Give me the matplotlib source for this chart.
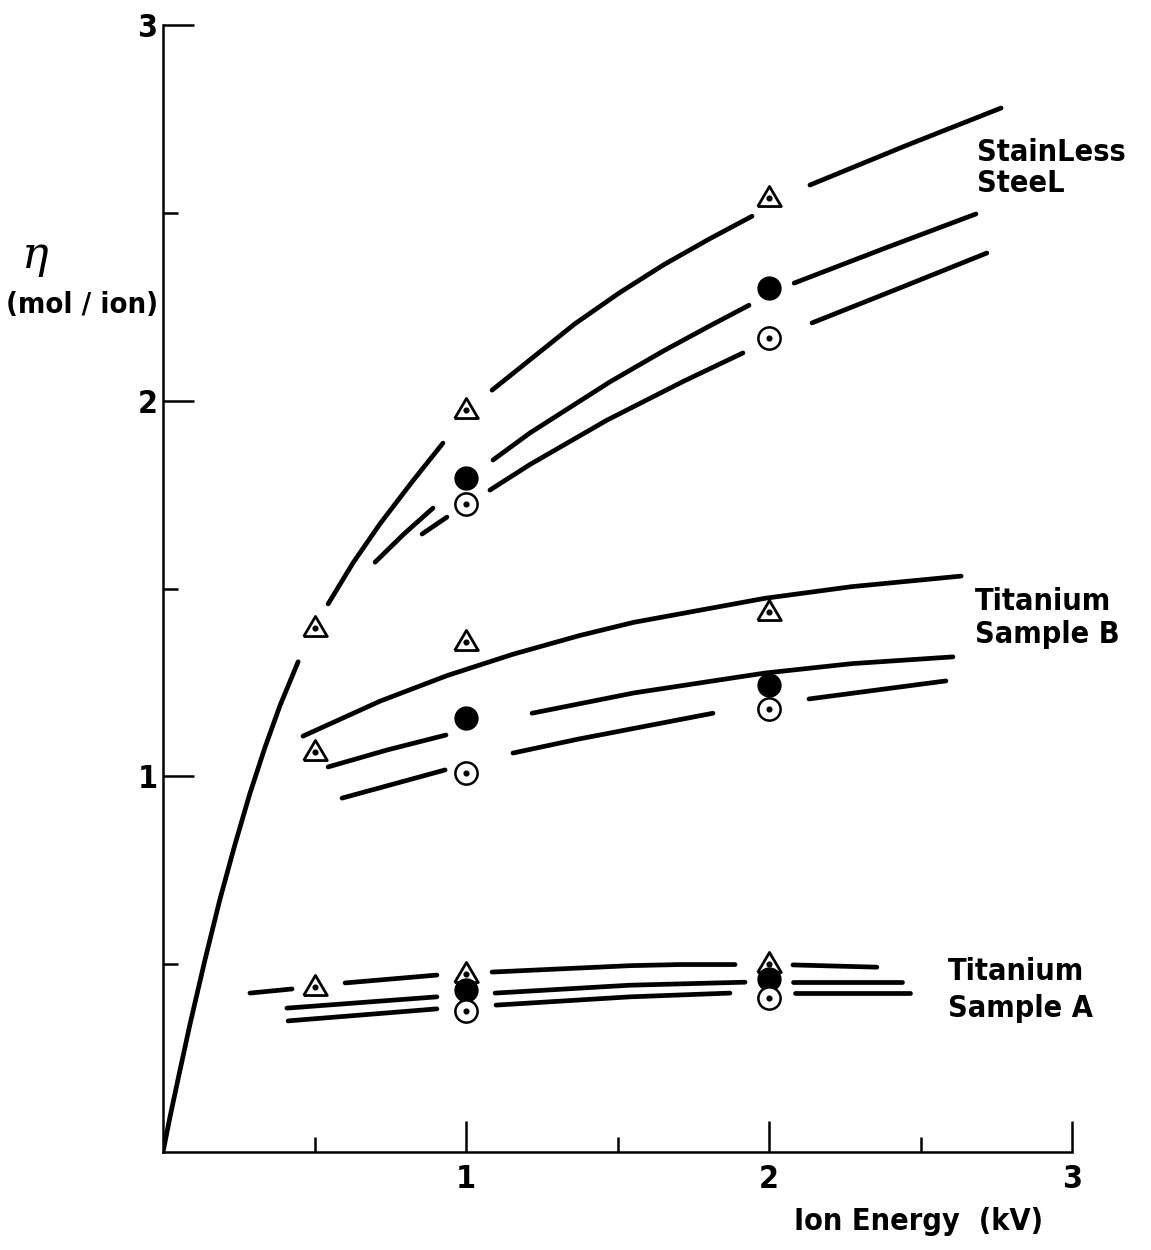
import numpy as np
import matplotlib
matplotlib.use("Agg")
from matplotlib import pyplot as plt

# ---- markers (kV, mol/ion) ----
ss_tri_x = [0.5, 1.0, 2.0]
ss_tri_y = [1.40, 1.98, 2.545]
ss_full_x = [1.0, 2.0]
ss_full_y = [1.795, 2.30]
ss_open_x = [1.0, 2.0]
ss_open_y = [1.725, 2.167]

tib_tri_x = [0.5, 1.0, 2.0]
tib_tri_y = [1.07, 1.363, 1.443]
tib_full_x = [1.0, 2.0]
tib_full_y = [1.155, 1.243]
tib_open_x = [1.0, 2.0]
tib_open_y = [1.009, 1.179]

tia_tri_x = [0.5, 1.0, 2.0]
tia_tri_y = [0.445, 0.479, 0.506]
tia_full_x = [1.0, 2.0]
tia_full_y = [0.431, 0.460]
tia_open_x = [1.0, 2.0]
tia_open_y = [0.375, 0.410]

# ---- hand drawn curves, broken around the markers ----
ss_tri_curve = [
    ([0, 0.023, 0.050, 0.089, 0.139, 0.188, 0.238, 0.287, 0.337, 0.386, 0.446],
     [0, 0.093, 0.195, 0.340, 0.513, 0.673, 0.820, 0.955, 1.078, 1.188, 1.305]),
    ([0.545, 0.627, 0.716, 0.825, 0.924],
     [1.459, 1.568, 1.672, 1.787, 1.887]),
    ([1.086, 1.360, 1.508, 1.653, 1.802, 1.944],
     [2.028, 2.205, 2.288, 2.362, 2.430, 2.491]),
    ([2.135, 2.449, 2.766],
     [2.574, 2.678, 2.779]),
]
ss_full_curve = [
    ([0.700, 0.795, 0.891], [1.570, 1.645, 1.714]),
    ([1.089, 1.211, 1.475, 1.653, 1.802, 1.934],
     [1.842, 1.914, 2.050, 2.133, 2.198, 2.254]),
    ([2.083, 2.383, 2.683], [2.313, 2.406, 2.497]),
]
ss_open_curve = [
    ([0.855, 0.937], [1.645, 1.690]),
    ([1.079, 1.211, 1.465, 1.719, 1.914],
     [1.762, 1.830, 1.948, 2.052, 2.127]),
    ([2.142, 2.432, 2.719], [2.207, 2.300, 2.393]),
]

tib_tri_curve = [
    ([0.462, 0.716, 0.937, 1.155, 1.376, 1.554, 1.987, 2.274, 2.634],
     [1.107, 1.200, 1.268, 1.325, 1.375, 1.410, 1.474, 1.505, 1.533]),
]
tib_full_curve = [
    ([0.545, 0.739, 0.934], [1.025, 1.070, 1.110]),
    ([1.218, 1.554, 1.987, 2.274, 2.607],
     [1.168, 1.222, 1.275, 1.300, 1.318]),
]
tib_open_curve = [
    ([0.591, 0.931], [0.942, 1.017]),
    ([1.155, 1.370, 1.815], [1.062, 1.099, 1.168]),
    ([2.132, 2.584], [1.206, 1.254]),
]

tia_tri_curve = [
    ([0.287, 0.426], [0.423, 0.434]),
    ([0.601, 0.904], [0.450, 0.471]),
    ([1.086, 1.541, 1.706, 1.888], [0.479, 0.496, 0.499, 0.499]),
    ([2.079, 2.356], [0.498, 0.492]),
]
tia_full_curve = [
    ([0.409, 0.904], [0.383, 0.413]),
    ([1.096, 1.541, 1.921], [0.423, 0.444, 0.452]),
    ([2.079, 2.439], [0.452, 0.452]),
]
tia_open_curve = [
    ([0.413, 0.904], [0.349, 0.381]),
    ([1.099, 1.541, 1.871], [0.391, 0.413, 0.423]),
    ([2.086, 2.465], [0.423, 0.423]),
]

all_curves = [ss_tri_curve, ss_full_curve, ss_open_curve,
              tib_tri_curve, tib_full_curve, tib_open_curve,
              tia_tri_curve, tia_full_curve, tia_open_curve]

font = dict(family="DejaVu Sans", fontweight="bold", fontstretch="condensed")

fig = plt.figure(figsize=(11.51, 12.5), dpi=100)
ax = fig.add_axes([163 / 1151, 98 / 1250, 909 / 1151, 1127 / 1250])
ax.set_xlim(0, 3)
ax.set_ylim(0, 3)

for curve in all_curves:
    for xs, ys in curve:
        ax.plot(xs, ys, color="k", lw=3.4, solid_capstyle="round",
                solid_joinstyle="round")

# triangle a bit flatter than it is wide
tri = [(-1, -0.85), (1, -0.85), (0, 0.85), (-1, -0.85)]
for xs, ys in [(ss_tri_x, ss_tri_y), (tib_tri_x, tib_tri_y), (tia_tri_x, tia_tri_y)]:
    ax.plot(xs, ys, ls="none", marker=tri, ms=17, mfc="white", mec="k", mew=2, zorder=5)
    ax.plot(xs, np.array(ys) - 0.006, ls="none", marker="o", ms=3.4, color="k", zorder=6)
for xs, ys in [(ss_full_x, ss_full_y), (tib_full_x, tib_full_y), (tia_full_x, tia_full_y)]:
    ax.plot(xs, ys, ls="none", marker="o", ms=16.5, color="k", zorder=5)
for xs, ys in [(ss_open_x, ss_open_y), (tib_open_x, tib_open_y), (tia_open_x, tia_open_y)]:
    ax.plot(xs, ys, ls="none", marker="o", ms=16, mfc="white", mec="k", mew=1.8, zorder=5)
    ax.plot(xs, ys, ls="none", marker="o", ms=3.4, color="k", zorder=6)

# axes
for s in ["top", "right"]:
    ax.spines[s].set_visible(False)
for s in ["left", "bottom"]:
    ax.spines[s].set_linewidth(1.8)
ax.set_xticks([1, 2, 3])
ax.set_xticks([0.5, 1.5, 2.5], minor=True)
ax.set_yticks([1, 2, 3])
ax.set_yticks([0.5, 1.5, 2.5], minor=True)
ax.set_xticklabels(["1", "2", "3"], fontsize=23, **font)
ax.set_yticklabels(["1", "2", "3"], fontsize=23, **font)
ax.tick_params(which="major", direction="in", length=22, width=1.8)
ax.tick_params(which="minor", direction="in", length=11, width=1.8)
ax.tick_params(axis="x", which="major", pad=9)
ax.tick_params(axis="y", which="major", pad=4)

# labels
fig.text(35 / 1151, 1 - 255 / 1250, "η", fontsize=32, ha="center", va="center",
         family="DejaVu Serif", style="italic")
fig.text(82 / 1151, 1 - 305 / 1250, "(mol / ion)", fontsize=21, ha="center",
         va="center", **font)
fig.text(919 / 1151, 1 - 1222 / 1250, "Ion Energy  (kV)", fontsize=22, ha="center",
         va="center", **font)

ax.text(2.685, 2.62, "StainLess\nSteeL", fontsize=22, ha="left", va="center",
        linespacing=1.1, **font)
ax.text(2.68, 1.421, "Titanium\nSample B", fontsize=22, ha="left", va="center",
        linespacing=1.2, **font)
ax.text(2.59, 0.431, "Titanium\nSample A", fontsize=22, ha="left", va="center",
        linespacing=1.35, **font)

fig.savefig("out.png", dpi=100)
